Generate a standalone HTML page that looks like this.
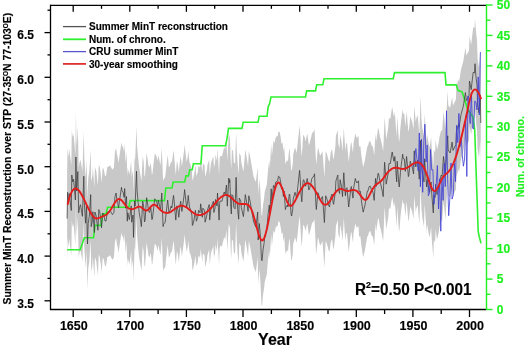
<!DOCTYPE html>
<html><head><meta charset="utf-8"><style>
html,body{margin:0;padding:0;background:#fff;width:525px;height:346px;overflow:hidden}
svg{display:block;will-change:transform}
text{font-family:"Liberation Sans",sans-serif;font-weight:bold;stroke-width:0.15px}
</style></head><body>
<svg width="525" height="346" viewBox="0 0 525 346">
<path d="M67.1,173.6 L67.6,147.3 L68.5,157.4 L69.2,148.5 L71.3,165.5 L71.8,130.0 L72.7,137.0 L73.6,134.3 L75.4,155.0 L75.9,112.0 L76.6,146.0 L77.1,138.9 L77.8,126.5 L78.7,167.8 L79.6,162.3 L80.5,159.7 L82.4,171.3 L83.8,131.2 L84.3,157.4 L85.6,178.2 L86.5,160.0 L87.5,199.0 L88.2,178.5 L89.3,171.3 L90.7,149.6 L91.2,181.7 L92.3,176.0 L92.8,166.7 L94.4,187.5 L94.9,167.0 L96.3,171.3 L96.8,176.0 L97.9,185.2 L98.8,164.6 L99.7,166.7 L101.0,176.0 L101.5,182.9 L102.7,168.0 L103.7,169.0 L105.0,176.0 L106.0,176.0 L107.3,167.0 L108.3,166.7 L110.0,165.3 L112.0,169.0 L112.5,169.7 L113.9,167.5 L115.0,151.5 L116.1,148.0 L116.8,153.8 L117.6,156.7 L118.5,163.0 L119.7,154.5 L121.5,142.3 L122.0,145.8 L123.1,147.0 L124.1,152.3 L124.7,143.5 L125.6,163.2 L126.5,151.5 L127.3,176.2 L127.8,167.7 L129.3,174.6 L129.8,171.8 L131.2,160.8 L131.7,177.2 L133.0,170.0 L133.5,192.4 L134.6,156.2 L135.1,161.0 L136.5,126.2 L137.1,145.8 L138.0,156.2 L139.2,167.5 L140.4,174.6 L141.4,181.6 L142.7,156.2 L143.6,161.0 L144.5,177.0 L145.1,175.1 L146.6,152.7 L147.3,156.7 L148.5,165.4 L149.4,167.5 L150.8,163.0 L151.9,174.6 L152.4,174.0 L154.7,153.8 L155.5,154.5 L156.5,156.2 L157.6,161.0 L158.4,155.0 L160.0,163.0 L160.5,165.3 L161.8,148.0 L163.1,181.6 L163.6,179.2 L165.2,177.2 L165.7,172.3 L167.2,158.8 L167.7,155.0 L168.9,167.5 L170.0,165.4 L171.1,161.0 L171.8,163.0 L173.5,150.4 L174.0,154.5 L175.1,167.7 L175.8,175.1 L176.9,160.8 L178.0,165.3 L178.8,172.3 L180.2,158.8 L180.7,156.2 L181.9,166.4 L182.4,163.0 L184.1,150.2 L184.6,144.6 L186.2,158.5 L186.7,162.1 L187.7,156.7 L188.2,150.4 L189.6,163.0 L190.1,163.2 L191.9,170.0 L192.4,180.5 L193.0,179.2 L194.2,174.0 L195.4,165.4 L196.4,176.2 L197.7,172.3 L198.6,165.3 L200.0,167.7 L200.7,158.8 L202.3,172.3 L202.9,163.2 L204.6,165.4 L205.1,177.2 L206.9,170.0 L207.4,165.3 L209.2,159.6 L209.7,175.1 L211.0,163.0 L211.6,161.0 L213.4,156.2 L213.9,167.5 L215.0,163.0 L215.5,154.5 L217.0,161.0 L217.5,148.0 L219.1,175.1 L219.6,158.5 L220.1,156.0 L222.0,156.2 L222.6,153.4 L224.2,147.0 L225.2,149.5 L226.5,140.0 L227.3,161.2 L228.8,133.0 L229.3,137.8 L229.8,134.6 L230.8,162.3 L231.3,169.0 L231.9,149.6 L233.0,150.8 L233.8,162.3 L235.1,163.8 L236.1,132.3 L236.9,153.4 L237.7,164.6 L238.7,174.2 L239.3,153.1 L240.8,156.0 L241.3,162.3 L243.4,171.6 L243.9,167.0 L245.3,149.6 L246.0,153.4 L246.9,158.8 L248.1,166.4 L248.8,150.8 L250.4,157.7 L250.9,161.2 L251.5,164.6 L253.1,173.9 L253.6,176.8 L255.8,182.0 L256.3,178.5 L257.7,167.0 L258.2,195.0 L259.3,178.5 L260.3,189.7 L261.5,215.0 L262.1,215.7 L263.0,205.0 L264.2,197.5 L264.7,192.0 L266.8,184.5 L267.3,178.5 L268.1,169.2 L269.3,160.0 L269.8,169.0 L271.2,143.8 L271.9,156.0 L273.5,140.4 L274.5,143.0 L275.8,137.0 L277.6,136.0 L278.5,131.2 L279.7,132.1 L280.8,138.0 L281.5,143.8 L282.7,142.7 L283.3,151.6 L284.2,146.2 L285.4,164.5 L285.9,162.3 L287.4,160.0 L287.9,162.0 L289.2,149.6 L289.7,149.0 L291.1,169.2 L291.6,171.0 L292.7,164.6 L293.2,154.2 L295.0,147.3 L295.5,149.0 L296.6,153.1 L297.9,141.2 L299.6,125.4 L300.1,132.1 L301.2,150.8 L301.8,156.8 L303.1,135.8 L303.6,134.7 L304.9,138.0 L305.6,141.2 L307.2,133.5 L307.7,136.0 L308.8,145.0 L309.5,143.8 L311.2,137.0 L311.9,133.4 L314.0,130.8 L314.5,128.8 L315.8,157.7 L316.3,164.5 L317.9,147.7 L318.4,148.5 L319.7,154.2 L320.5,155.5 L322.0,152.0 L322.5,151.6 L323.8,169.2 L324.4,177.5 L325.7,150.8 L327.0,154.2 L328.5,160.0 L329.5,162.0 L330.8,152.0 L332.1,149.0 L333.1,157.7 L333.6,159.4 L335.4,146.2 L335.9,136.0 L337.8,130.0 L338.3,143.8 L339.6,148.5 L340.1,134.7 L341.5,141.5 L342.5,151.6 L343.8,127.7 L344.3,136.0 L345.4,150.8 L346.1,143.8 L347.0,142.7 L348.7,162.0 L349.2,157.7 L350.8,143.8 L351.3,141.5 L353.0,153.1 L353.5,143.8 L355.3,133.5 L356.0,136.0 L356.9,138.0 L358.5,135.8 L359.0,146.4 L360.4,146.2 L361.2,154.2 L362.7,164.6 L363.2,167.1 L365.0,160.0 L365.5,156.8 L367.3,146.2 L367.8,146.4 L369.2,141.5 L370.3,141.2 L371.9,146.2 L372.9,146.4 L374.2,155.4 L375.5,133.4 L376.1,141.5 L378.1,128.2 L378.6,128.8 L380.0,137.0 L380.6,138.6 L382.3,146.2 L383.2,151.6 L384.6,117.3 L385.1,123.0 L386.2,139.2 L387.7,130.8 L388.2,127.7 L388.9,118.6 L390.4,118.5 L391.5,110.8 L392.2,107.0 L393.8,116.2 L394.3,116.0 L394.8,111.5 L395.8,125.4 L396.7,136.8 L397.2,116.2 L398.8,139.2 L399.3,142.0 L400.4,127.7 L401.1,121.2 L402.7,109.2 L403.2,113.4 L404.3,113.8 L405.3,126.4 L406.6,111.5 L408.4,131.6 L408.9,130.0 L410.3,116.2 L411.0,118.6 L411.9,120.8 L413.6,129.0 L414.2,105.8 L415.8,122.0 L416.3,118.6 L417.7,115.0 L419.3,134.2 L420.7,95.4 L421.4,118.6 L422.3,127.7 L424.0,136.8 L424.6,113.8 L426.6,142.0 L427.1,134.6 L429.2,146.2 L429.7,147.1 L431.1,137.0 L431.8,149.7 L433.3,167.9 L433.8,150.0 L435.1,152.3 L435.7,139.2 L437.0,149.7 L438.5,143.8 L439.5,136.8 L441.2,130.0 L442.1,131.6 L443.5,111.5 L444.3,118.0 L445.4,130.0 L447.7,90.8 L448.2,105.0 L450.1,108.0 L452.1,97.1 L453.0,105.4 L455.9,99.6 L456.4,86.8 L458.6,79.0 L459.1,82.3 L460.8,70.7 L461.3,68.6 L463.1,62.0 L463.8,58.2 L465.4,47.6 L466.4,55.6 L467.5,53.4 L469.0,50.4 L469.5,36.0 L471.2,44.7 L471.7,40.0 L473.2,27.3 L474.5,28.0 L475.0,18.7 L476.1,33.1 L477.0,40.0 L477.6,59.1 L479.0,67.8 L480.3,50.0 L480.8,78.0 L480.8,168.0 L480.3,140.0 L479.0,157.8 L477.6,149.1 L477.0,130.0 L476.1,123.1 L475.0,108.7 L474.5,118.0 L473.2,117.3 L471.7,130.0 L471.2,134.7 L469.5,126.0 L469.0,140.4 L467.5,143.4 L466.4,145.6 L465.4,137.6 L463.8,148.2 L463.1,152.0 L461.3,158.6 L460.8,160.7 L459.1,172.3 L458.6,169.0 L456.4,176.8 L455.9,189.6 L453.0,195.4 L452.1,187.1 L450.1,198.0 L448.2,195.0 L447.7,180.8 L445.4,220.0 L444.3,208.0 L443.5,201.5 L442.1,221.6 L441.2,220.0 L439.5,226.8 L438.5,233.8 L437.0,239.7 L435.7,229.2 L435.1,242.3 L433.8,240.0 L433.3,257.9 L431.8,239.7 L431.1,227.0 L429.7,237.1 L429.2,236.2 L427.1,224.6 L426.6,232.0 L424.6,203.8 L424.0,226.8 L422.3,217.7 L421.4,208.6 L420.7,185.4 L419.3,224.2 L417.7,205.0 L416.3,208.6 L415.8,212.0 L414.2,195.8 L413.6,219.0 L411.9,210.8 L411.0,208.6 L410.3,206.2 L408.9,220.0 L408.4,221.6 L406.6,201.5 L405.3,216.4 L404.3,203.8 L403.2,203.4 L402.7,199.2 L401.1,211.2 L400.4,217.7 L399.3,232.0 L398.8,229.2 L397.2,206.2 L396.7,226.8 L395.8,215.4 L394.8,201.5 L394.3,206.0 L393.8,206.2 L392.2,197.0 L391.5,200.8 L390.4,208.5 L388.9,208.6 L388.2,217.7 L387.7,220.8 L386.2,229.2 L385.1,213.0 L384.6,207.3 L383.2,241.6 L382.3,236.2 L380.6,228.6 L380.0,227.0 L378.6,218.8 L378.1,218.2 L376.1,231.5 L375.5,223.4 L374.2,245.4 L372.9,236.4 L371.9,236.2 L370.3,231.2 L369.2,231.5 L367.8,236.4 L367.3,236.2 L365.5,246.8 L365.0,250.0 L363.2,257.1 L362.7,254.6 L361.2,244.2 L360.4,236.2 L359.0,236.4 L358.5,225.8 L356.9,228.0 L356.0,226.0 L355.3,223.5 L353.5,233.8 L353.0,243.1 L351.3,231.5 L350.8,233.8 L349.2,247.7 L348.7,252.0 L347.0,232.7 L346.1,233.8 L345.4,240.8 L344.3,226.0 L343.8,217.7 L342.5,241.6 L341.5,231.5 L340.1,224.7 L339.6,238.5 L338.3,233.8 L337.8,220.0 L335.9,226.0 L335.4,236.2 L333.6,249.4 L333.1,247.7 L332.1,239.0 L330.8,242.0 L329.5,252.0 L328.5,250.0 L327.0,244.2 L325.7,240.8 L324.4,267.5 L323.8,259.2 L322.5,241.6 L322.0,242.0 L320.5,245.5 L319.7,244.2 L318.4,238.5 L317.9,237.7 L316.3,254.5 L315.8,247.7 L314.5,218.8 L314.0,220.8 L311.9,223.4 L311.2,227.0 L309.5,233.8 L308.8,235.0 L307.7,226.0 L307.2,223.5 L305.6,231.2 L304.9,228.0 L303.6,224.7 L303.1,225.8 L301.8,246.8 L301.2,240.8 L300.1,222.1 L299.6,215.4 L297.9,231.2 L296.6,243.1 L295.5,239.0 L295.0,237.3 L293.2,244.2 L292.7,254.6 L291.6,261.0 L291.1,259.2 L289.7,239.0 L289.2,239.6 L287.9,252.0 L287.4,250.0 L285.9,252.3 L285.4,254.5 L284.2,236.2 L283.3,241.6 L282.7,232.7 L281.5,233.8 L280.8,228.0 L279.7,222.1 L278.5,221.2 L277.6,226.0 L275.8,227.0 L274.5,233.0 L273.5,230.4 L271.9,246.0 L271.2,233.8 L269.8,259.0 L269.3,250.0 L268.1,259.2 L267.3,268.5 L266.8,274.5 L264.7,282.0 L264.2,287.5 L263.0,295.0 L262.1,305.7 L261.5,305.0 L260.3,279.7 L259.3,268.5 L258.2,285.0 L257.7,257.0 L256.3,268.5 L255.8,272.0 L253.6,266.8 L253.1,263.9 L251.5,254.6 L250.9,251.2 L250.4,247.7 L248.8,240.8 L248.1,256.4 L246.9,248.8 L246.0,243.4 L245.3,239.6 L243.9,257.0 L243.4,261.6 L241.3,252.3 L240.8,246.0 L239.3,243.1 L238.7,264.2 L237.7,254.6 L236.9,243.4 L236.1,222.3 L235.1,253.8 L233.8,252.3 L233.0,240.8 L231.9,239.6 L231.3,259.0 L230.8,252.3 L229.8,224.6 L229.3,227.8 L228.8,223.0 L227.3,251.2 L226.5,230.0 L225.2,239.5 L224.2,237.0 L222.6,243.4 L222.0,246.2 L220.1,246.0 L219.6,248.5 L219.1,265.1 L217.5,238.0 L217.0,251.0 L215.5,244.5 L215.0,253.0 L213.9,257.5 L213.4,246.2 L211.6,251.0 L211.0,253.0 L209.7,265.1 L209.2,249.6 L207.4,255.3 L206.9,260.0 L205.1,267.2 L204.6,255.4 L202.9,253.2 L202.3,262.3 L200.7,248.8 L200.0,257.7 L198.6,255.3 L197.7,262.3 L196.4,266.2 L195.4,255.4 L194.2,264.0 L193.0,269.2 L192.4,270.5 L191.9,260.0 L190.1,253.2 L189.6,253.0 L188.2,240.4 L187.7,246.7 L186.7,252.1 L186.2,248.5 L184.6,234.6 L184.1,240.2 L182.4,253.0 L181.9,256.4 L180.7,246.2 L180.2,248.8 L178.8,262.3 L178.0,255.3 L176.9,250.8 L175.8,265.1 L175.1,257.7 L174.0,244.5 L173.5,240.4 L171.8,253.0 L171.1,251.0 L170.0,255.4 L168.9,257.5 L167.7,245.0 L167.2,248.8 L165.7,262.3 L165.2,267.2 L163.6,269.2 L163.1,271.6 L161.8,238.0 L160.5,255.3 L160.0,253.0 L158.4,245.0 L157.6,251.0 L156.5,246.2 L155.5,244.5 L154.7,243.8 L152.4,264.0 L151.9,264.6 L150.8,253.0 L149.4,257.5 L148.5,255.4 L147.3,246.7 L146.6,242.7 L145.1,265.1 L144.5,267.0 L143.6,251.0 L142.7,246.2 L141.4,271.6 L140.4,264.6 L139.2,257.5 L138.0,246.2 L137.1,235.8 L136.5,216.2 L135.1,251.0 L134.6,246.2 L133.5,282.4 L133.0,260.0 L131.7,267.2 L131.2,250.8 L129.8,261.8 L129.3,264.6 L127.8,257.7 L127.3,266.2 L126.5,241.5 L125.6,253.2 L124.7,233.5 L124.1,242.3 L123.1,237.0 L122.0,235.8 L121.5,232.3 L119.7,244.5 L118.5,253.0 L117.6,246.7 L116.8,243.8 L116.1,238.0 L115.0,241.5 L113.9,257.5 L112.5,259.7 L112.0,259.0 L110.0,255.3 L108.3,256.7 L107.3,257.0 L106.0,266.0 L105.0,266.0 L103.7,259.0 L102.7,258.0 L101.5,272.9 L101.0,266.0 L99.7,256.7 L98.8,254.6 L97.9,275.2 L96.8,266.0 L96.3,261.3 L94.9,257.0 L94.4,277.5 L92.8,256.7 L92.3,266.0 L91.2,271.7 L90.7,239.6 L89.3,261.3 L88.2,268.5 L87.5,289.0 L86.5,250.0 L85.6,268.2 L84.3,247.4 L83.8,221.2 L82.4,261.3 L80.5,249.7 L79.6,252.3 L78.7,257.8 L77.8,216.5 L77.1,228.9 L76.6,236.0 L75.9,202.0 L75.4,245.0 L73.6,224.3 L72.7,227.0 L71.8,220.0 L71.3,255.5 L69.2,238.5 L68.5,247.4 L67.6,237.3 L67.1,263.6 Z" fill="#c8c8c8" stroke="none"/>
<path d="M67.1,249.7 L80.2,249.7 L84.3,237.8 L93.5,237.8 L95.0,225.4 L101.0,225.4 L102.5,213.9 L106.0,213.9 L107.6,207.2 L128.8,207.2 L130.2,200.6 L164.5,200.6 L165.8,188.0 L172.0,188.0 L173.2,182.0 L184.7,182.0 L186.0,175.9 L188.5,175.9 L189.7,169.8 L192.2,169.8 L193.4,163.7 L201.0,163.7 L202.2,145.7 L225.5,145.7 L227.0,138.6 L228.5,128.4 L242.0,128.4 L243.2,122.3 L258.0,122.3 L259.2,116.2 L267.0,116.2 L268.2,106.6 L269.5,104.1 L271.0,97.0 L305.5,97.0 L306.7,90.9 L315.5,90.9 L316.7,84.8 L322.8,84.8 L324.0,78.7 L393.2,78.7 L394.5,72.6 L445.0,72.6 L446.0,84.9 L456.2,84.9 L458.1,90.6 L462.1,91.9 L464.7,99.7 L467.3,108.3 L471.6,115.3 L473.0,117.0 L474.7,129.2 L476.5,182.6 L478.2,231.3 L479.2,236.5 L481.0,243.4" fill="none" stroke="#2ef02e" stroke-width="1.6"/>
<path d="M67.1,218.6 L67.6,192.3 L68.5,202.4 L69.2,193.5 L71.3,210.5 L71.8,175.0 L72.7,182.0 L73.6,179.3 L75.4,200.0 L75.9,157.0 L76.6,191.0 L77.1,183.9 L77.8,171.5 L78.7,212.8 L79.6,207.3 L80.5,204.7 L82.4,216.3 L83.8,176.2 L84.3,202.4 L85.6,223.2 L86.5,205.0 L87.5,244.0 L88.2,223.5 L89.3,216.3 L90.7,194.6 L91.2,226.7 L92.3,221.0 L92.8,211.7 L94.4,232.5 L94.9,212.0 L96.3,216.3 L96.8,221.0 L97.9,230.2 L98.8,209.6 L99.7,211.7 L101.0,221.0 L101.5,227.9 L102.7,213.0 L103.7,214.0 L105.0,221.0 L106.0,221.0 L107.3,212.0 L108.3,211.7 L110.0,210.3 L112.0,214.0 L112.5,214.7 L113.9,212.5 L115.0,196.5 L116.1,193.0 L116.8,198.8 L117.6,201.7 L118.5,208.0 L119.7,199.5 L121.5,187.3 L122.0,190.8 L123.1,192.0 L124.1,197.3 L124.7,188.5 L125.6,208.2 L126.5,196.5 L127.3,221.2 L127.8,212.7 L129.3,219.6 L129.8,216.8 L131.2,205.8 L131.7,222.2 L133.0,215.0 L133.5,237.4 L134.6,201.2 L135.1,206.0 L136.5,171.2 L137.1,190.8 L138.0,201.2 L139.2,212.5 L140.4,219.6 L141.4,226.6 L142.7,201.2 L143.6,206.0 L144.5,222.0 L145.1,220.1 L146.6,197.7 L147.3,201.7 L148.5,210.4 L149.4,212.5 L150.8,208.0 L151.9,219.6 L152.4,219.0 L154.7,198.8 L155.5,199.5 L156.5,201.2 L157.6,206.0 L158.4,200.0 L160.0,208.0 L160.5,210.3 L161.8,193.0 L163.1,226.6 L163.6,224.2 L165.2,222.2 L165.7,217.3 L167.2,203.8 L167.7,200.0 L168.9,212.5 L170.0,210.4 L171.1,206.0 L171.8,208.0 L173.5,195.4 L174.0,199.5 L175.1,212.7 L175.8,220.1 L176.9,205.8 L178.0,210.3 L178.8,217.3 L180.2,203.8 L180.7,201.2 L181.9,211.4 L182.4,208.0 L184.1,195.2 L184.6,189.6 L186.2,203.5 L186.7,207.1 L187.7,201.7 L188.2,195.4 L189.6,208.0 L190.1,208.2 L191.9,215.0 L192.4,225.5 L193.0,224.2 L194.2,219.0 L195.4,210.4 L196.4,221.2 L197.7,217.3 L198.6,210.3 L200.0,212.7 L200.7,203.8 L202.3,217.3 L202.9,208.2 L204.6,210.4 L205.1,222.2 L206.9,215.0 L207.4,210.3 L209.2,204.6 L209.7,220.1 L211.0,208.0 L211.6,206.0 L213.4,201.2 L213.9,212.5 L215.0,208.0 L215.5,199.5 L217.0,206.0 L217.5,193.0 L219.1,220.1 L219.6,203.5 L220.1,201.0 L222.0,201.2 L222.6,198.4 L224.2,192.0 L225.2,194.5 L226.5,185.0 L227.3,206.2 L228.8,178.0 L229.3,182.8 L229.8,179.6 L230.8,207.3 L231.3,214.0 L231.9,194.6 L233.0,195.8 L233.8,207.3 L235.1,208.8 L236.1,177.3 L236.9,198.4 L237.7,209.6 L238.7,219.2 L239.3,198.1 L240.8,201.0 L241.3,207.3 L243.4,216.6 L243.9,212.0 L245.3,194.6 L246.0,198.4 L246.9,203.8 L248.1,211.4 L248.8,195.8 L250.4,202.7 L250.9,206.2 L251.5,209.6 L253.1,218.9 L253.6,221.8 L255.8,227.0 L256.3,223.5 L257.7,212.0 L258.2,240.0 L259.3,223.5 L260.3,234.7 L261.5,260.0 L262.1,260.7 L263.0,250.0 L264.2,242.5 L264.7,237.0 L266.8,229.5 L267.3,223.5 L268.1,214.2 L269.3,205.0 L269.8,214.0 L271.2,188.8 L271.9,201.0 L273.5,185.4 L274.5,188.0 L275.8,182.0 L277.6,181.0 L278.5,176.2 L279.7,177.1 L280.8,183.0 L281.5,188.8 L282.7,187.7 L283.3,196.6 L284.2,191.2 L285.4,209.5 L285.9,207.3 L287.4,205.0 L287.9,207.0 L289.2,194.6 L289.7,194.0 L291.1,214.2 L291.6,216.0 L292.7,209.6 L293.2,199.2 L295.0,192.3 L295.5,194.0 L296.6,198.1 L297.9,186.2 L299.6,170.4 L300.1,177.1 L301.2,195.8 L301.8,201.8 L303.1,180.8 L303.6,179.7 L304.9,183.0 L305.6,186.2 L307.2,178.5 L307.7,181.0 L308.8,190.0 L309.5,188.8 L311.2,182.0 L311.9,178.4 L314.0,175.8 L314.5,173.8 L315.8,202.7 L316.3,209.5 L317.9,192.7 L318.4,193.5 L319.7,199.2 L320.5,200.5 L322.0,197.0 L322.5,196.6 L323.8,214.2 L324.4,222.5 L325.7,195.8 L327.0,199.2 L328.5,205.0 L329.5,207.0 L330.8,197.0 L332.1,194.0 L333.1,202.7 L333.6,204.4 L335.4,191.2 L335.9,181.0 L337.8,175.0 L338.3,188.8 L339.6,193.5 L340.1,179.7 L341.5,186.5 L342.5,196.6 L343.8,172.7 L344.3,181.0 L345.4,195.8 L346.1,188.8 L347.0,187.7 L348.7,207.0 L349.2,202.7 L350.8,188.8 L351.3,186.5 L353.0,198.1 L353.5,188.8 L355.3,178.5 L356.0,181.0 L356.9,183.0 L358.5,180.8 L359.0,191.4 L360.4,191.2 L361.2,199.2 L362.7,209.6 L363.2,212.1 L365.0,205.0 L365.5,201.8 L367.3,191.2 L367.8,191.4 L369.2,186.5 L370.3,186.2 L371.9,191.2 L372.9,191.4 L374.2,200.4 L375.5,178.4 L376.1,186.5 L378.1,173.2 L378.6,173.8 L380.0,182.0 L380.6,183.6 L382.3,191.2 L383.2,196.6 L384.6,162.3 L385.1,168.0 L386.2,184.2 L387.7,175.8 L388.2,172.7 L388.9,163.6 L390.4,163.5 L391.5,155.8 L392.2,152.0 L393.8,161.2 L394.3,161.0 L394.8,156.5 L395.8,170.4 L396.7,181.8 L397.2,161.2 L398.8,184.2 L399.3,187.0 L400.4,172.7 L401.1,166.2 L402.7,154.2 L403.2,158.4 L404.3,158.8 L405.3,171.4 L406.6,156.5 L408.4,176.6 L408.9,175.0 L410.3,161.2 L411.0,163.6 L411.9,165.8 L413.6,174.0 L414.2,150.8 L415.8,167.0 L416.3,163.6 L417.7,160.0 L419.3,179.2 L420.7,140.4 L421.4,163.6 L422.3,172.7 L424.0,181.8 L424.6,158.8 L426.6,187.0 L427.1,179.6 L429.2,191.2 L429.7,192.1 L431.1,182.0 L431.8,194.7 L433.3,212.9 L433.8,195.0 L435.1,197.3 L435.7,184.2 L437.0,194.7 L438.5,188.8 L439.5,181.8 L441.2,175.0 L442.1,176.6 L443.5,156.5 L444.3,163.0 L445.4,175.0 L447.7,135.8 L448.2,150.0 L450.1,153.0 L452.1,142.1 L453.0,150.4 L455.9,144.6 L456.4,131.8 L458.6,124.0 L459.1,127.3 L460.8,115.7 L461.3,113.6 L463.1,107.0 L463.8,103.2 L465.4,92.6 L466.4,100.6 L467.5,98.4 L469.0,95.4 L469.5,81.0 L471.2,89.7 L471.7,85.0 L473.2,72.3 L474.5,73.0 L475.0,63.7 L476.1,78.1 L477.0,85.0 L477.6,104.1 L479.0,112.8 L480.3,95.0 L480.8,123.0" fill="none" stroke="#3a3a3a" stroke-width="0.75"/>
<path d="M413.6,167.2 L414.8,156.8 L415.9,148.6 L417.0,159.7 L418.2,170.8 L419.3,133.0 L420.4,186.7 L421.5,139.3 L422.7,192.3 L423.8,141.9 L424.9,124.2 L426.1,162.0 L427.2,144.9 L428.3,195.7 L429.5,193.5 L430.6,149.5 L431.7,170.0 L432.9,169.8 L434.0,204.3 L435.1,191.0 L436.3,182.9 L437.4,165.5 L438.5,209.0 L439.7,178.9 L440.8,231.2 L441.9,177.7 L443.1,200.4 L444.2,163.4 L445.3,186.6 L446.5,110.8 L447.6,178.2 L448.7,215.7 L449.9,197.8 L451.0,163.1 L452.1,199.1 L453.3,194.8 L454.4,163.6 L455.5,181.6 L456.6,125.4 L457.8,142.7 L458.9,113.4 L460.0,146.7 L461.2,137.4 L462.3,155.1 L463.4,166.2 L464.6,159.0 L465.7,116.0 L466.8,176.5 L468.0,95.9 L469.1,113.6 L470.2,123.7 L471.4,92.8 L472.5,128.0 L473.6,129.2 L474.8,100.9 L475.9,102.8 L477.0,110.0 L478.2,76.9 L479.3,115.0 L480.4,52.0" fill="none" stroke="#3c3cd4" stroke-width="0.8"/>
<path d="M67.6,204.8 L68.3,201.8 L69.0,199.1 L69.7,196.8 L70.4,194.8 L71.1,193.1 L71.8,191.7 L72.5,190.5 L73.2,189.7 L73.9,189.0 L74.6,188.7 L75.3,188.5 L76.0,188.5 L76.7,188.8 L77.4,189.2 L78.1,189.8 L78.8,190.5 L79.5,191.4 L80.2,192.4 L80.9,193.5 L81.6,194.7 L82.3,196.0 L83.0,197.3 L83.7,198.7 L84.4,200.2 L85.1,201.6 L85.8,203.1 L86.5,204.6 L87.2,206.0 L87.9,207.5 L88.6,208.9 L89.3,210.2 L90.0,211.5 L90.7,212.7 L91.4,213.9 L92.1,215.0 L92.8,215.9 L93.5,216.7 L94.2,217.4 L94.9,217.9 L95.6,218.3 L96.3,218.4 L97.0,218.5 L97.7,218.4 L98.4,218.2 L99.1,217.9 L99.8,217.6 L100.5,217.3 L101.2,217.0 L101.9,216.7 L102.6,216.4 L103.3,216.1 L104.0,215.8 L104.7,215.5 L105.4,215.1 L106.1,214.7 L106.8,214.2 L107.5,213.6 L108.2,212.9 L108.9,212.2 L109.6,211.3 L110.3,210.3 L111.0,209.2 L111.7,208.0 L112.4,206.8 L113.1,205.6 L113.8,204.4 L114.5,203.3 L115.2,202.2 L115.9,201.3 L116.6,200.4 L117.3,199.8 L118.0,199.3 L118.7,199.0 L119.4,199.0 L120.1,199.3 L120.8,199.7 L121.5,200.3 L122.2,201.0 L122.9,201.9 L123.6,202.8 L124.3,203.7 L125.0,204.6 L125.7,205.5 L126.4,206.4 L127.1,207.1 L127.8,207.7 L128.5,208.2 L129.2,208.6 L129.9,208.9 L130.6,209.1 L131.3,209.2 L132.0,209.2 L132.7,209.1 L133.4,208.9 L134.1,208.7 L134.8,208.4 L135.5,208.0 L136.2,207.6 L136.9,207.3 L137.6,206.9 L138.3,206.7 L139.0,206.6 L139.7,206.6 L140.4,206.8 L141.1,207.2 L141.8,207.7 L142.5,208.3 L143.2,208.9 L143.9,209.5 L144.6,210.0 L145.3,210.3 L146.0,210.5 L146.7,210.5 L147.4,210.2 L148.1,209.7 L148.8,209.1 L149.5,208.3 L150.2,207.5 L150.9,206.7 L151.6,206.0 L152.3,205.4 L153.0,204.9 L153.7,204.7 L154.4,204.7 L155.1,205.0 L155.8,205.4 L156.5,205.9 L157.2,206.6 L157.9,207.3 L158.6,208.0 L159.3,208.8 L160.0,209.5 L160.7,210.2 L161.4,210.7 L162.1,211.3 L162.8,211.7 L163.5,212.1 L164.2,212.4 L164.9,212.7 L165.6,212.8 L166.3,212.9 L167.0,213.0 L167.7,212.9 L168.4,212.8 L169.1,212.6 L169.8,212.3 L170.5,212.0 L171.2,211.6 L171.9,211.1 L172.6,210.6 L173.3,210.1 L174.0,209.6 L174.7,209.1 L175.4,208.6 L176.1,208.1 L176.8,207.6 L177.5,207.2 L178.2,206.8 L178.9,206.4 L179.6,206.1 L180.3,205.9 L181.0,205.8 L181.7,205.7 L182.4,205.7 L183.1,205.9 L183.8,206.1 L184.5,206.4 L185.2,206.7 L185.9,207.1 L186.6,207.6 L187.3,208.1 L188.0,208.6 L188.7,209.2 L189.4,209.7 L190.1,210.3 L190.8,210.9 L191.5,211.5 L192.2,212.0 L192.9,212.5 L193.6,213.0 L194.3,213.5 L195.0,213.9 L195.7,214.3 L196.4,214.6 L197.1,214.8 L197.8,214.9 L198.5,215.0 L199.2,215.1 L199.9,215.1 L200.6,215.0 L201.3,214.8 L202.0,214.6 L202.7,214.4 L203.4,214.1 L204.1,213.8 L204.8,213.4 L205.5,212.9 L206.2,212.4 L206.9,211.9 L207.6,211.4 L208.3,210.7 L209.0,210.1 L209.7,209.4 L210.4,208.7 L211.1,208.0 L211.8,207.2 L212.5,206.4 L213.2,205.6 L213.9,204.8 L214.6,203.9 L215.3,203.1 L216.0,202.3 L216.7,201.5 L217.4,200.7 L218.1,199.9 L218.8,199.2 L219.5,198.5 L220.2,197.9 L220.9,197.3 L221.6,196.8 L222.3,196.3 L223.0,195.9 L223.7,195.5 L224.4,195.3 L225.1,195.1 L225.8,195.0 L226.5,195.0 L227.2,195.1 L227.9,195.3 L228.6,195.7 L229.3,196.1 L230.0,196.6 L230.7,197.2 L231.4,197.8 L232.1,198.5 L232.8,199.1 L233.5,199.8 L234.2,200.5 L234.9,201.2 L235.6,201.8 L236.3,202.3 L237.0,202.8 L237.7,203.3 L238.4,203.6 L239.1,203.8 L239.8,203.9 L240.5,204.0 L241.2,204.0 L241.9,204.0 L242.6,204.0 L243.3,204.0 L244.0,204.0 L244.7,204.0 L245.4,204.0 L246.1,204.1 L246.8,204.3 L247.5,204.6 L248.2,205.1 L248.9,205.7 L249.6,206.5 L250.3,207.5 L251.0,208.7 L251.7,210.2 L252.4,212.0 L253.1,214.1 L253.8,216.4 L254.5,218.9 L255.2,221.6 L255.9,224.3 L256.6,226.9 L257.3,229.6 L258.0,232.0 L258.7,234.3 L259.4,236.3 L260.1,238.0 L260.8,239.3 L261.5,240.1 L262.2,240.4 L262.9,240.1 L263.6,239.2 L264.3,237.8 L265.0,235.9 L265.7,233.5 L266.4,230.8 L267.1,227.8 L267.8,224.5 L268.5,221.0 L269.2,217.4 L269.9,213.6 L270.6,209.8 L271.3,206.1 L272.0,202.4 L272.7,198.9 L273.4,195.5 L274.1,192.5 L274.8,189.7 L275.5,187.3 L276.2,185.3 L276.9,183.8 L277.6,182.9 L278.3,182.5 L279.0,182.7 L279.7,183.4 L280.4,184.4 L281.1,185.8 L281.8,187.4 L282.5,189.2 L283.2,191.1 L283.9,193.1 L284.6,195.1 L285.3,197.1 L286.0,198.9 L286.7,200.7 L287.4,202.2 L288.1,203.5 L288.8,204.6 L289.5,205.4 L290.2,205.8 L290.9,205.8 L291.6,205.6 L292.3,205.0 L293.0,204.2 L293.7,203.2 L294.4,202.1 L295.1,200.8 L295.8,199.4 L296.5,198.0 L297.2,196.6 L297.9,195.2 L298.6,193.8 L299.3,192.5 L300.0,191.2 L300.7,190.0 L301.4,188.8 L302.1,187.7 L302.8,186.7 L303.5,185.8 L304.2,185.0 L304.9,184.4 L305.6,183.8 L306.3,183.5 L307.0,183.2 L307.7,183.2 L308.4,183.2 L309.1,183.5 L309.8,183.9 L310.5,184.4 L311.2,185.0 L311.9,185.8 L312.6,186.6 L313.3,187.6 L314.0,188.6 L314.7,189.7 L315.4,190.9 L316.1,192.2 L316.8,193.5 L317.5,194.8 L318.2,196.1 L318.9,197.5 L319.6,198.7 L320.3,199.9 L321.0,201.1 L321.7,202.1 L322.4,203.0 L323.1,203.7 L323.8,204.3 L324.5,204.6 L325.2,204.8 L325.9,204.7 L326.6,204.4 L327.3,203.9 L328.0,203.3 L328.7,202.5 L329.4,201.6 L330.1,200.6 L330.8,199.5 L331.5,198.4 L332.2,197.3 L332.9,196.2 L333.6,195.1 L334.3,194.0 L335.0,193.1 L335.7,192.2 L336.4,191.4 L337.1,190.6 L337.8,190.0 L338.5,189.5 L339.2,189.2 L339.9,188.9 L340.6,188.9 L341.3,188.9 L342.0,189.1 L342.7,189.3 L343.4,189.6 L344.1,190.0 L344.8,190.3 L345.5,190.6 L346.2,190.9 L346.9,191.0 L347.6,191.1 L348.3,191.1 L349.0,190.9 L349.7,190.7 L350.4,190.5 L351.1,190.3 L351.8,190.1 L352.5,190.0 L353.2,189.9 L353.9,189.9 L354.6,190.1 L355.3,190.3 L356.0,190.6 L356.7,191.1 L357.4,191.6 L358.1,192.3 L358.8,193.1 L359.5,194.0 L360.2,194.9 L360.9,195.9 L361.6,196.8 L362.3,197.7 L363.0,198.5 L363.7,199.2 L364.4,199.7 L365.1,199.9 L365.8,199.8 L366.5,199.4 L367.2,198.8 L367.9,197.8 L368.6,196.7 L369.3,195.4 L370.0,194.0 L370.7,192.6 L371.4,191.2 L372.1,189.9 L372.8,188.8 L373.5,187.7 L374.2,186.7 L374.9,185.9 L375.6,185.1 L376.3,184.5 L377.0,184.0 L377.7,183.5 L378.4,183.1 L379.1,182.6 L379.8,182.1 L380.5,181.5 L381.2,180.8 L381.9,180.0 L382.6,179.2 L383.3,178.3 L384.0,177.3 L384.7,176.4 L385.4,175.4 L386.1,174.4 L386.8,173.5 L387.5,172.7 L388.2,171.9 L388.9,171.1 L389.6,170.5 L390.3,169.9 L391.0,169.4 L391.7,168.9 L392.4,168.5 L393.1,168.2 L393.8,168.0 L394.5,167.8 L395.2,167.7 L395.9,167.7 L396.6,167.7 L397.3,167.9 L398.0,168.0 L398.7,168.2 L399.4,168.4 L400.1,168.6 L400.8,168.7 L401.5,168.9 L402.2,169.0 L402.9,169.0 L403.6,168.9 L404.3,168.8 L405.0,168.6 L405.7,168.4 L406.4,168.1 L407.1,167.7 L407.8,167.3 L408.5,166.9 L409.2,166.5 L409.9,166.0 L410.6,165.5 L411.3,165.0 L412.0,164.6 L412.7,164.1 L413.4,163.7 L414.1,163.3 L414.8,163.0 L415.5,162.7 L416.2,162.5 L416.9,162.4 L417.6,162.4 L418.3,162.5 L419.0,162.6 L419.7,163.0 L420.4,163.4 L421.1,164.0 L421.8,164.7 L422.5,165.6 L423.2,166.6 L423.9,167.8 L424.6,169.2 L425.3,170.7 L426.0,172.5 L426.7,174.3 L427.4,176.3 L428.1,178.4 L428.8,180.4 L429.5,182.5 L430.2,184.4 L430.9,186.2 L431.6,187.7 L432.3,189.1 L433.0,190.1 L433.7,190.8 L434.4,191.1 L435.1,190.9 L435.8,190.4 L436.5,189.6 L437.2,188.6 L437.9,187.3 L438.6,185.9 L439.3,184.4 L440.0,182.9 L440.7,181.4 L441.4,179.9 L442.1,178.6 L442.8,177.5 L443.5,176.6 L444.2,175.7 L444.9,175.0 L445.6,174.4 L446.3,173.8 L447.0,173.2 L447.7,172.5 L448.4,171.8 L449.1,171.0 L449.8,170.0 L450.5,169.0 L451.2,167.8 L451.9,166.5 L452.6,165.1 L453.3,163.6 L454.0,161.9 L454.7,160.1 L455.4,158.2 L456.1,156.1 L456.8,153.9 L457.5,151.6 L458.2,149.2 L458.9,146.7 L459.6,144.1 L460.3,141.5 L461.0,138.7 L461.7,135.9 L462.4,133.1 L463.1,130.1 L463.8,127.1 L464.5,124.0 L465.2,120.9 L465.9,117.7 L466.6,114.4 L467.3,111.1 L468.0,107.7 L468.7,104.5 L469.4,101.4 L470.1,98.6 L470.8,96.0 L471.5,93.9 L472.2,92.2 L472.9,91.0 L473.6,90.1 L474.3,89.6 L475.0,89.5 L475.7,89.6 L476.4,90.0 L477.1,90.7 L477.8,91.7 L478.5,92.8 L479.2,94.2 L479.9,95.8 L480.6,97.5 L481.2,99.1" fill="none" stroke="#e41c1c" stroke-width="1.9"/>
<g stroke="#000" stroke-width="1.3" fill="none">
<line x1="50.5" y1="4.7" x2="50.5" y2="310"/>
<line x1="50" y1="5.3" x2="486.5" y2="5.3"/>
<line x1="50" y1="309.5" x2="486.5" y2="309.5"/>
<line x1="44.5" y1="300.8" x2="50.5" y2="300.8"/><line x1="47.5" y1="278.4" x2="50.5" y2="278.4"/><line x1="44.5" y1="256.1" x2="50.5" y2="256.1"/><line x1="47.5" y1="233.8" x2="50.5" y2="233.8"/><line x1="44.5" y1="211.4" x2="50.5" y2="211.4"/><line x1="47.5" y1="189.1" x2="50.5" y2="189.1"/><line x1="44.5" y1="166.7" x2="50.5" y2="166.7"/><line x1="47.5" y1="144.3" x2="50.5" y2="144.3"/><line x1="44.5" y1="122.0" x2="50.5" y2="122.0"/><line x1="47.5" y1="99.7" x2="50.5" y2="99.7"/><line x1="44.5" y1="77.3" x2="50.5" y2="77.3"/><line x1="47.5" y1="54.9" x2="50.5" y2="54.9"/><line x1="44.5" y1="32.6" x2="50.5" y2="32.6"/><line x1="47.5" y1="10.2" x2="50.5" y2="10.2"/><line x1="73.2" y1="310" x2="73.2" y2="317"/><line x1="73.2" y1="5.3" x2="73.2" y2="11.8"/><line x1="101.5" y1="310" x2="101.5" y2="314"/><line x1="101.5" y1="5.3" x2="101.5" y2="8.8"/><line x1="129.8" y1="310" x2="129.8" y2="317"/><line x1="129.8" y1="5.3" x2="129.8" y2="11.8"/><line x1="158.1" y1="310" x2="158.1" y2="314"/><line x1="158.1" y1="5.3" x2="158.1" y2="8.8"/><line x1="186.4" y1="310" x2="186.4" y2="317"/><line x1="186.4" y1="5.3" x2="186.4" y2="11.8"/><line x1="214.7" y1="310" x2="214.7" y2="314"/><line x1="214.7" y1="5.3" x2="214.7" y2="8.8"/><line x1="243.0" y1="310" x2="243.0" y2="317"/><line x1="243.0" y1="5.3" x2="243.0" y2="11.8"/><line x1="271.4" y1="310" x2="271.4" y2="314"/><line x1="271.4" y1="5.3" x2="271.4" y2="8.8"/><line x1="299.7" y1="310" x2="299.7" y2="317"/><line x1="299.7" y1="5.3" x2="299.7" y2="11.8"/><line x1="328.0" y1="310" x2="328.0" y2="314"/><line x1="328.0" y1="5.3" x2="328.0" y2="8.8"/><line x1="356.3" y1="310" x2="356.3" y2="317"/><line x1="356.3" y1="5.3" x2="356.3" y2="11.8"/><line x1="384.6" y1="310" x2="384.6" y2="314"/><line x1="384.6" y1="5.3" x2="384.6" y2="8.8"/><line x1="412.9" y1="310" x2="412.9" y2="317"/><line x1="412.9" y1="5.3" x2="412.9" y2="11.8"/><line x1="441.2" y1="310" x2="441.2" y2="314"/><line x1="441.2" y1="5.3" x2="441.2" y2="8.8"/><line x1="469.5" y1="310" x2="469.5" y2="317"/><line x1="469.5" y1="5.3" x2="469.5" y2="11.8"/>
</g>
<g stroke="#20f020" stroke-width="1.4" fill="none">
<line x1="486.5" y1="4.5" x2="486.5" y2="310"/>
<line x1="486.5" y1="309.5" x2="492.5" y2="309.5"/><line x1="486.5" y1="294.3" x2="490.5" y2="294.3"/><line x1="486.5" y1="279.1" x2="492.5" y2="279.1"/><line x1="486.5" y1="263.8" x2="490.5" y2="263.8"/><line x1="486.5" y1="248.6" x2="492.5" y2="248.6"/><line x1="486.5" y1="233.4" x2="490.5" y2="233.4"/><line x1="486.5" y1="218.2" x2="492.5" y2="218.2"/><line x1="486.5" y1="202.9" x2="490.5" y2="202.9"/><line x1="486.5" y1="187.7" x2="492.5" y2="187.7"/><line x1="486.5" y1="172.5" x2="490.5" y2="172.5"/><line x1="486.5" y1="157.2" x2="492.5" y2="157.2"/><line x1="486.5" y1="142.0" x2="490.5" y2="142.0"/><line x1="486.5" y1="126.8" x2="492.5" y2="126.8"/><line x1="486.5" y1="111.6" x2="490.5" y2="111.6"/><line x1="486.5" y1="96.3" x2="492.5" y2="96.3"/><line x1="486.5" y1="81.1" x2="490.5" y2="81.1"/><line x1="486.5" y1="65.9" x2="492.5" y2="65.9"/><line x1="486.5" y1="50.7" x2="490.5" y2="50.7"/><line x1="486.5" y1="35.4" x2="492.5" y2="35.4"/><line x1="486.5" y1="20.2" x2="490.5" y2="20.2"/><line x1="486.5" y1="5.0" x2="492.5" y2="5.0"/>
</g>
<g font-size="12" fill="#000" stroke="#000"><text x="34" y="307.6" text-anchor="end">3.5</text><text x="34" y="262.9" text-anchor="end">4.0</text><text x="34" y="218.2" text-anchor="end">4.5</text><text x="34" y="173.5" text-anchor="end">5.0</text><text x="34" y="128.8" text-anchor="end">5.5</text><text x="34" y="84.1" text-anchor="end">6.0</text><text x="34" y="39.4" text-anchor="end">6.5</text><text x="73.8" y="330" text-anchor="middle" font-size="12.5">1650</text><text x="130.4" y="330" text-anchor="middle" font-size="12.5">1700</text><text x="187.0" y="330" text-anchor="middle" font-size="12.5">1750</text><text x="243.6" y="330" text-anchor="middle" font-size="12.5">1800</text><text x="300.3" y="330" text-anchor="middle" font-size="12.5">1850</text><text x="356.9" y="330" text-anchor="middle" font-size="12.5">1900</text><text x="413.5" y="330" text-anchor="middle" font-size="12.5">1950</text><text x="470.1" y="330" text-anchor="middle" font-size="12.5">2000</text></g>
<g font-size="12" fill="#20f020" stroke="#20f020"><text x="496.8" y="313.7">0</text><text x="496.8" y="283.2">5</text><text x="496.8" y="252.8">10</text><text x="496.8" y="222.3">15</text><text x="496.8" y="191.9">20</text><text x="496.8" y="161.4">25</text><text x="496.8" y="131.0">30</text><text x="496.8" y="100.5">35</text><text x="496.8" y="70.1">40</text><text x="496.8" y="39.6">45</text><text x="496.8" y="9.2">50</text></g>
<g stroke-width="1.3">
<line x1="63" y1="26.6" x2="86" y2="26.6" stroke="#555"/>
<line x1="63" y1="39.3" x2="86" y2="39.3" stroke="#2ef02e" stroke-width="1.8"/>
<line x1="63" y1="51.6" x2="86" y2="51.6" stroke="#5555cc"/>
<line x1="63" y1="63.9" x2="86" y2="63.9" stroke="#e03030" stroke-width="1.8"/>
</g>
<g font-size="10" fill="#000" stroke="#000">
<text x="89" y="30.3">Summer MinT reconstruction</text>
<text x="89" y="42.9">Num. of chrono.</text>
<text x="89" y="55.3">CRU summer MinT</text>
<text x="89" y="67.6">30-year smoothing</text>
</g>
<text x="355" y="294.6" font-size="15.5" fill="#000" stroke="#000" transform="translate(3.55,-17.7) scale(0.99,1.06)">R<tspan font-size="9" dy="-6">2</tspan><tspan dy="6">=0.50 P&lt;0.001</tspan></text>
<text x="275" y="344.7" font-size="16" text-anchor="middle" fill="#000" stroke="#000" stroke-width="0.3" transform="translate(0,-27.58) scale(1,1.08)">Year</text>
<text transform="translate(11.3,304.5) rotate(-90)" font-size="10.4" fill="#000" stroke="#000">Summer MinT Reconstruction over STP (27-35<tspan font-size="6.5" dy="-3.5">O</tspan><tspan dy="3.5">N 77-103</tspan><tspan font-size="6.5" dy="-3.5">O</tspan><tspan dy="3.5">E)</tspan></text>
<text transform="translate(523.8,197.3) rotate(-90)" font-size="10.6" fill="#20f020" stroke="#20f020" stroke-width="0.25">Num. of chrono.</text>
</svg>
</body></html>
